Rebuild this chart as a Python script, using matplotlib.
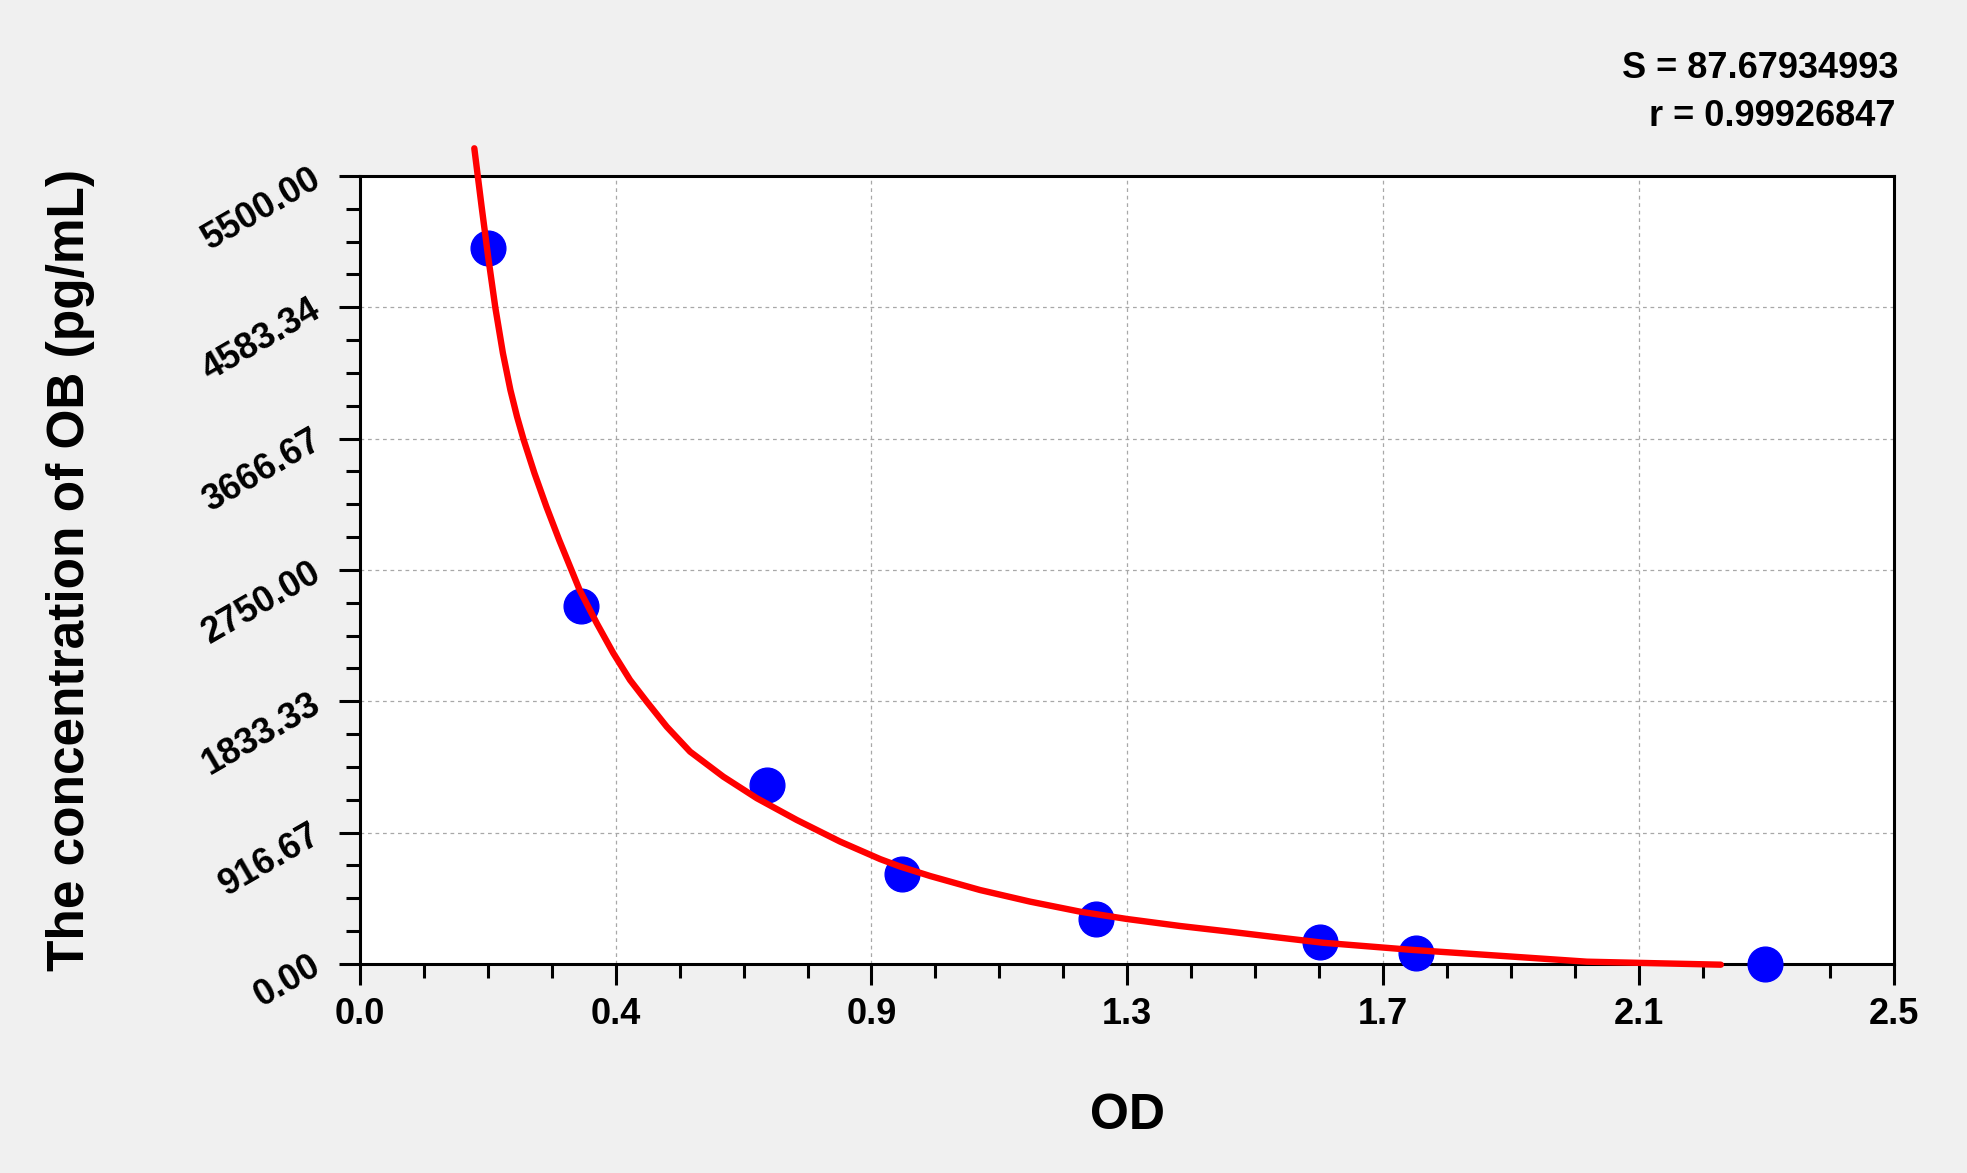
import numpy as np
import matplotlib
matplotlib.use('Agg')
import matplotlib.pyplot as plt

plt.rcParams['font.family'] = ['Liberation Sans', 'DejaVu Sans']
plt.rcParams['font.weight'] = 'bold'

# 标准点 (OD, 浓度)
od = [0.2086, 0.3597, 0.6636, 0.8838, 1.1988, 1.5639, 1.7210, 2.2898]
conc = [5000, 2500, 1250, 625, 312.5, 156.25, 78.13, 0]

# 拟合曲线
curve_x = [0.1863, 0.1982, 0.2088, 0.2207, 0.2329, 0.2451, 0.2559, 0.2668,
           0.2843, 0.3037, 0.3246, 0.3579, 0.3858, 0.4128, 0.4400, 0.4672,
           0.4998, 0.5378, 0.5921, 0.6465, 0.7117, 0.7823, 0.8475, 0.8801,
           0.9289, 1.0104, 1.0919, 1.1734, 1.2495, 1.3364, 1.4179, 1.4940,
           1.5694, 1.7153, 1.8612, 1.9990, 2.2172]
curve_y = [5693, 5286, 4937, 4577, 4263, 4006, 3820, 3657,
           3425, 3192, 2959, 2610, 2378, 2169, 1982, 1831,
           1656, 1482, 1307, 1157, 1005, 854, 732, 680,
           614, 516, 435, 365, 314, 265, 225, 186,
           148, 98, 56, 16, -5]

xtick_labels = ['0.0', '0.4', '0.9', '1.3', '1.7', '2.1', '2.5']
ytick_labels = ['0.00', '916.67', '1833.33', '2750.00', '3666.67', '4583.34', '5500.00']

s_text = 'S = 87.67934993'
r_text = 'r = 0.99926847'

fig = plt.figure(figsize=(19.67, 11.73), dpi=100, facecolor='#f0f0f0')
ax = fig.add_axes([0.1830, 0.1782, 0.7801, 0.6718])
ax.set_facecolor('white')

ax.plot(od, conc, 'o', color='#0000ff', markersize=25, zorder=5, clip_on=False)
ax.plot(curve_x, curve_y, color='#ff0000', linewidth=4.6, zorder=6, clip_on=False,
        solid_capstyle='round', solid_joinstyle='round')

ax.set_xlim(0, 2.5)
ax.set_ylim(0, 5500)

ax.set_xticks(np.linspace(0, 2.5, 7))
ax.set_xticks(np.linspace(0, 2.5, 25), minor=True)
ax.set_xticklabels(xtick_labels, fontsize=26, fontweight='bold')
ax.set_yticks(np.linspace(0, 5500, 7))
ax.set_yticks(np.linspace(0, 5500, 25), minor=True)
ax.set_yticklabels(ytick_labels, fontsize=26, fontweight='bold',
                   rotation=30, rotation_mode='anchor', ha='right', va='center')

ax.tick_params(axis='both', which='major', direction='out', length=15, width=2.2)
ax.tick_params(axis='both', which='minor', direction='out', length=10, width=2.2)
ax.tick_params(axis='x', which='major', pad=9)
ax.tick_params(axis='y', which='major', pad=15)

ax.grid(True, which='major', color='#a8a8a8', linestyle=(0, (3, 3)), linewidth=0.9)

for sp in ax.spines.values():
    sp.set_linewidth(2.2)

ax.set_xlabel('OD', fontsize=36, fontweight='bold')
ax.xaxis.set_label_coords(0.5, -0.164)
fig.text(0.0358, 0.514, 'The concentration of OB (pg/mL)', fontsize=37,
         fontweight='bold', rotation=90, ha='center', va='center')

fig.text(1898 / 1967, 1 - 78 / 1173, s_text, fontsize=26, fontweight='bold',
         ha='right', va='baseline')
fig.text(1895 / 1967, 1 - 126 / 1173, r_text, fontsize=26, fontweight='bold',
         ha='right', va='baseline')

plt.savefig('out.png', dpi=100, facecolor=fig.get_facecolor())
